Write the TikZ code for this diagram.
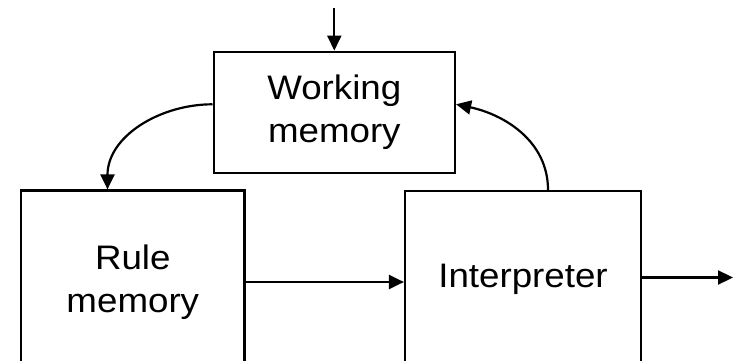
\documentclass[tikz,border=0pt]{standalone}
\usepackage{fontspec}
\setmainfont{Liberation Sans}[FakeStretch=1.08]
\usetikzlibrary{arrows.meta}
\begin{document}
\begin{tikzpicture}[x=1pt,y=1pt,
  box/.style={draw,line width=2.2pt,inner sep=0pt,align=center,font=\fontsize{34}{43}\selectfont},
  conn/.style={line width=2.2pt,-{Triangle[length=15pt,width=14pt]}}]
\useasboundingbox (0,0) rectangle (733,361);
\clip (0,0) rectangle (733,361);
\node[box,minimum width=241.4pt,minimum height=121.6pt] (wm) at (334.3,248.5) {Working\\memory};
\node[box,minimum width=223.5pt,minimum height=183pt] (rm) at (132.8,79) {Rule\\memory};
\node[box,minimum width=236pt,minimum height=176pt] (ip) at (523,82) {Interpreter};
\coordinate (in) at (334.3,353);
\coordinate (outc) at (733,84);
\draw[conn] (in) -- (wm.north);
\draw[conn] ([yshift=8.2pt]wm.west) to[out=180,in=90] ([xshift=-25.3pt]rm.north);
\draw[conn] ([xshift=25pt]ip.north) to[out=90,in=-12] ([yshift=8.2pt]wm.east);
\draw[conn] (rm.east) -- (rm.east -| ip.west);
\draw[conn] ([yshift=1.5pt]ip.east) -- ([yshift=1.5pt]ip.east -| outc);
\end{tikzpicture}
\end{document}
